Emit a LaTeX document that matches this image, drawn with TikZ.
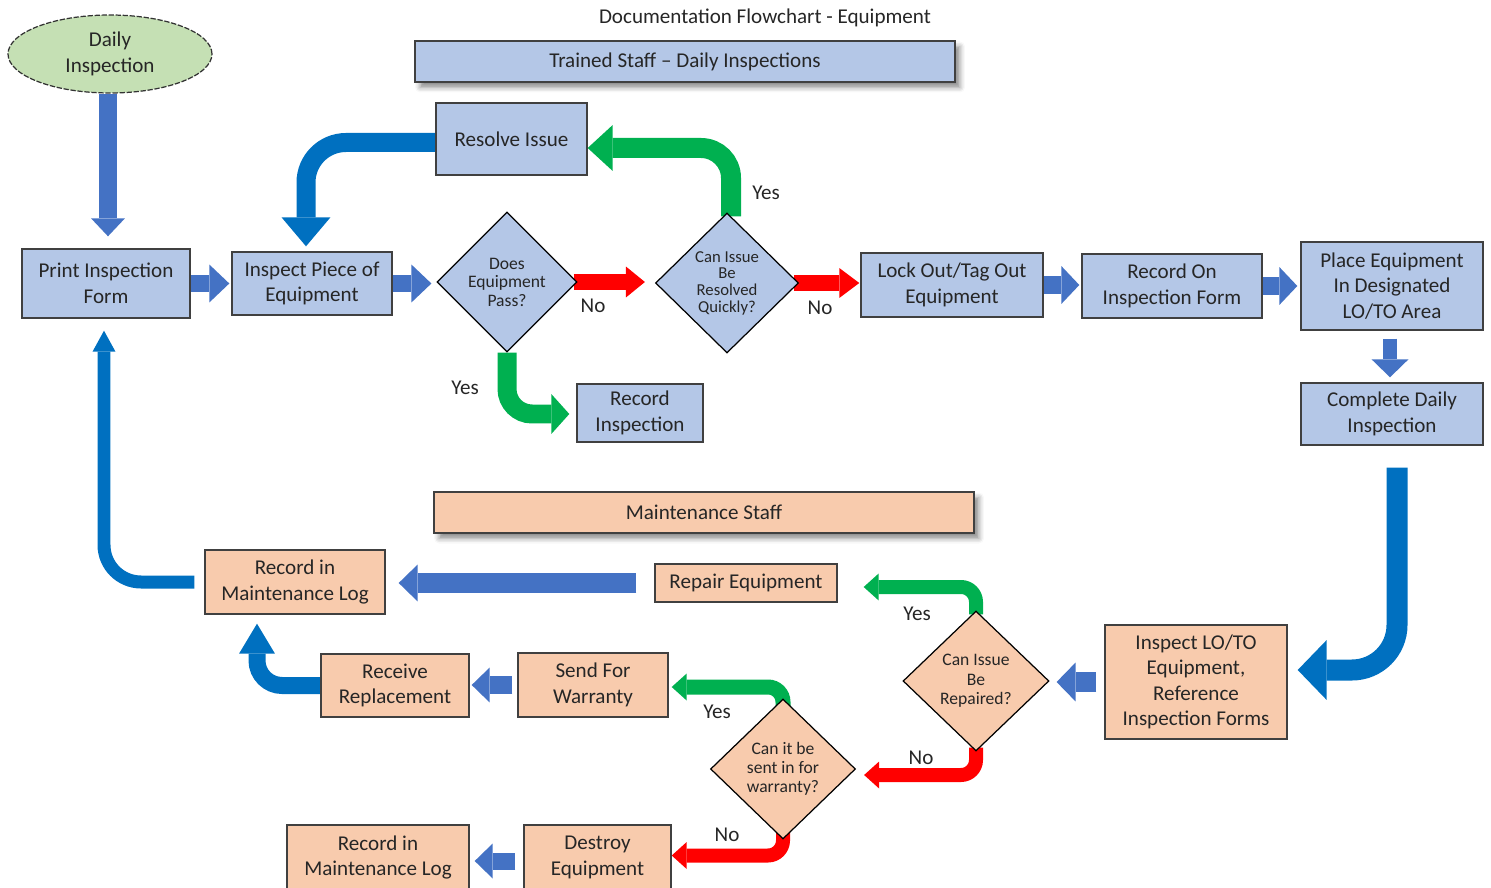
\documentclass[tikz,border=0pt]{standalone}
\usepackage{fontspec}
\setmainfont{Carlito}
\usetikzlibrary{shapes.geometric,arrows.meta,shadows.blur,calc,backgrounds}
\definecolor{boxblue}{HTML}{B4C7E7}
\definecolor{boxpeach}{HTML}{F8CBAD}
\definecolor{startgreen}{HTML}{C5E0B4}
\definecolor{flowblue}{HTML}{4472C4}
\definecolor{bendblue}{HTML}{0070C0}
\definecolor{yesgreen}{HTML}{00B050}
\definecolor{nored}{HTML}{FF0000}

\begin{document}
\begin{tikzpicture}
  [x=0.02cm, y=-0.02cm,
   every node/.style={text=black!85, font=\fontsize{12}{14.5}\selectfont},
   box/.style 2 args={rectangle, draw=black!75, line width=0.8pt, align=center,
     inner sep=0pt, minimum width=#1, minimum height=#2},
   bluebox/.style 2 args={box={#1}{#2}, fill=boxblue},
   peachbox/.style 2 args={box={#1}{#2}, fill=boxpeach},
   question/.style 2 args={diamond, draw=black, line width=0.7pt, align=center,
     inner sep=0pt, minimum width=#1, minimum height=#2, font=\fontsize{10}{10.5}\selectfont},
   header/.style={blur shadow={shadow xshift=0.1cm, shadow yshift=-0.11cm,
     shadow blur radius=0.1cm, shadow opacity=45}},
   answer/.style={inner sep=0pt},
   fat/.style n args={3}{line width=#1, -{Triangle[length=#2, width=#3, line width=0pt]}}]
  \useasboundingbox (0,0) rectangle (1491,888);

  \node (title) at (765,18) {Documentation Flowchart - Equipment};
  \node[ellipse, draw=black!80, dash pattern=on 3pt off 1pt, line width=0.7pt, fill=startgreen,
        minimum width=4.08cm, minimum height=1.56cm, align=center, inner sep=0pt]
        (daily) at (110,54) {Daily\\Inspection};
  \node[bluebox={10.8cm}{0.82cm}, header] (trained) at (685,61.5) {Trained Staff -- Daily Inspections};
  \node[bluebox={3.02cm}{1.44cm}] (resolve) at (511.5,139) {Resolve Issue};
  \node[bluebox={3.36cm}{1.38cm}] (print) at (106,283.5) {Print Inspection\\Form};
  \node[bluebox={3.2cm}{1.26cm}] (inspect) at (312,283.5) {Inspect Piece of\\Equipment};
  \node[question={2.8cm}{2.8cm}, fill=boxblue] (pass) at (507,282) {Does\\Equipment\\Pass?};
  \node[question={2.86cm}{2.8cm}, fill=boxblue, font=\fontsize{9.5}{9.5}\selectfont]
        (quick) at (727,283) {Can Issue\\Be\\Resolved\\Quickly?};
  \node[bluebox={3.64cm}{1.28cm}] (lockout) at (952,285) {Lock Out/Tag Out\\Equipment};
  \node[bluebox={3.6cm}{1.28cm}] (recordon) at (1172,286) {Record On\\Inspection Form};
  \node[bluebox={3.64cm}{1.76cm}] (place) at (1392,286) {Place Equipment\\In Designated\\LO/TO Area};
  \node[bluebox={3.64cm}{1.24cm}] (complete) at (1392,414) {Complete Daily\\Inspection};
  \node[bluebox={2.52cm}{1.16cm}] (recinsp) at (640,413) {Record\\Inspection};

  \node[peachbox={10.8cm}{0.82cm}, header] (maint) at (704,512.5) {Maintenance Staff};
  \node[peachbox={3.6cm}{1.28cm}] (logA) at (295,582) {Record in\\Maintenance Log};
  \node[peachbox={3.64cm}{0.76cm}] (repair) at (746,583) {Repair Equipment};
  \node[question={2.92cm}{2.8cm}, fill=boxpeach, font=\fontsize{10}{11}\selectfont]
        (repaired) at (976,681) {Can Issue\\Be\\Repaired?};
  \node[peachbox={3.64cm}{2.28cm}] (inspectlo) at (1196,682) {Inspect LO/TO\\Equipment,\\Reference\\Inspection Forms};
  \node[peachbox={2.96cm}{1.26cm}] (receive) at (395,685.5) {Receive\\Replacement};
  \node[peachbox={3cm}{1.28cm}] (sendfor) at (593,685) {Send For\\Warranty};
  \node[question={2.9cm}{2.8cm}, fill=boxpeach, font=\fontsize{10}{10.8}\selectfont]
        (warrantyq) at (783,769) {Can it be\\sent in for\\warranty?};
  \node[peachbox={2.94cm}{1.3cm}] (destroy) at (597.5,857.5) {Destroy\\Equipment};
  \node[peachbox={3.64cm}{1.3cm}] (logB) at (378,857.5) {Record in\\Maintenance Log};

  \node[answer] (yesA) at (465,388) {Yes};
  \node[answer] (noA) at (593,306) {No};
  \node[answer] (yesB) at (766,193) {Yes};
  \node[answer] (noB) at (820,308) {No};
  \node[answer] (yesC) at (917,614) {Yes};
  \node[answer] (noC) at (921,758) {No};
  \node[answer] (yesD) at (717,712) {Yes};
  \node[answer] (noD) at (727,835) {No};

  \begin{scope}[on background layer]
    \draw[flowblue, fat={0.36cm}{0.36cm}{0.68cm}, shorten >=0.24cm] ($(daily.south)+(-2,0)$) -- ($(daily.south |- print.north)+(-2,0)$);
    \draw[flowblue, fat={0.34cm}{0.4cm}{0.76cm}, shorten >=0.04cm] (print.east) -- (inspect.west);
    \draw[flowblue, fat={0.34cm}{0.4cm}{0.76cm}, shorten >=0.1cm] (inspect.east) -- (inspect.east -| pass.west);
    \draw[nored, fat={0.32cm}{0.38cm}{0.62cm}, shorten <=-0.08cm, shorten >=0.2cm] (pass.east) -- (pass.east -| quick.west);
    \draw[nored, fat={0.32cm}{0.4cm}{0.6cm}, shorten <=-0.1cm, shorten >=0.02cm] (quick.east) -- (quick.east -| lockout.west);
    \draw[yesgreen, fat={0.4cm}{0.5cm}{0.92cm}, rounded corners=0.6cm] ($(quick.north)+(4,4)$) |- ($(resolve.east)+(0,9)$);
    \draw[bendblue, fat={0.38cm}{0.58cm}{0.98cm}, rounded corners=0.8cm, shorten >=0.1cm] ($(resolve.west)+(0,3.5)$) -| ($(inspect.north)+(-6,0)$);
    \draw[yesgreen, fat={0.38cm}{0.36cm}{0.8cm}, rounded corners=0.5cm, shorten >=0.14cm] (pass.south) |- ($(recinsp.west)+(0,1)$);
    \draw[flowblue, fat={0.36cm}{0.36cm}{0.76cm}, shorten >=0.04cm] (lockout.east) -- (lockout.east -| recordon.west);
    \draw[flowblue, fat={0.36cm}{0.36cm}{0.76cm}, shorten >=0.06cm] (recordon.east) -- (recordon.east -| place.west);
    \draw[flowblue, fat={0.28cm}{0.36cm}{0.74cm}, shorten <=0.16cm, shorten >=0.1cm] ($(place.south)+(-2,0)$) -- ($(complete.north)+(-2,0)$);
    \draw[bendblue, fat={0.42cm}{0.58cm}{1.2cm}, rounded corners=0.9cm, shorten <=0.44cm, shorten >=0.2cm] ($(complete.south)+(5,0)$) |- ($(inspectlo.east)+(0,-12)$);
    \draw[flowblue, fat={0.4cm}{0.38cm}{0.78cm}, shorten <=0.16cm, shorten >=0.14cm] (inspectlo.west) -- (inspectlo.west -| repaired.east);
    \draw[yesgreen, fat={0.28cm}{0.3cm}{0.54cm}, rounded corners=0.3cm, shorten >=0.52cm] ($(repaired.north)+(0,4)$) |- ($(repair.east)+(0,4)$);
    \draw[nored, fat={0.28cm}{0.3cm}{0.54cm}, rounded corners=0.3cm, shorten >=0.16cm] ($(repaired.south)+(0,-4)$) |- ($(warrantyq.east)+(0,6)$);
    \draw[yesgreen, fat={0.3cm}{0.3cm}{0.54cm}, rounded corners=0.3cm, shorten >=0.06cm] ($(warrantyq.north)+(0,12)$) |- ($(sendfor.east)+(0,2)$);
    \draw[nored, fat={0.28cm}{0.3cm}{0.54cm}, rounded corners=0.3cm] ($(warrantyq.south)+(0,-12)$) |- ($(destroy.east)+(0,-2)$);
    \draw[flowblue, fat={0.42cm}{0.38cm}{0.74cm}, shorten <=0.36cm, shorten >=0.26cm] (repair.west) -- (repair.west -| logA.east);
    \draw[bendblue, fat={0.26cm}{0.42cm}{0.46cm}, rounded corners=0.74cm, shorten <=0.2cm, shorten >=0.24cm] (logA.west) -| ($(print.south)+(-2,0)$);
    \draw[flowblue, fat={0.36cm}{0.36cm}{0.7cm}, shorten <=0.1cm, shorten >=0.04cm] (sendfor.west) -- (sendfor.west -| receive.east);
    \draw[bendblue, fat={0.34cm}{0.6cm}{0.72cm}, rounded corners=0.5cm, shorten <=-0.08cm, shorten >=0.18cm] (receive.west) -| ($(logA.south)+(-38,0)$);
    \draw[flowblue, fat={0.34cm}{0.36cm}{0.7cm}, shorten <=0.16cm, shorten >=0.1cm] ($(destroy.west)+(0,3.5)$) -- ($(logB.east)+(0,3.5)$);
  \end{scope}
\end{tikzpicture}
\end{document}
